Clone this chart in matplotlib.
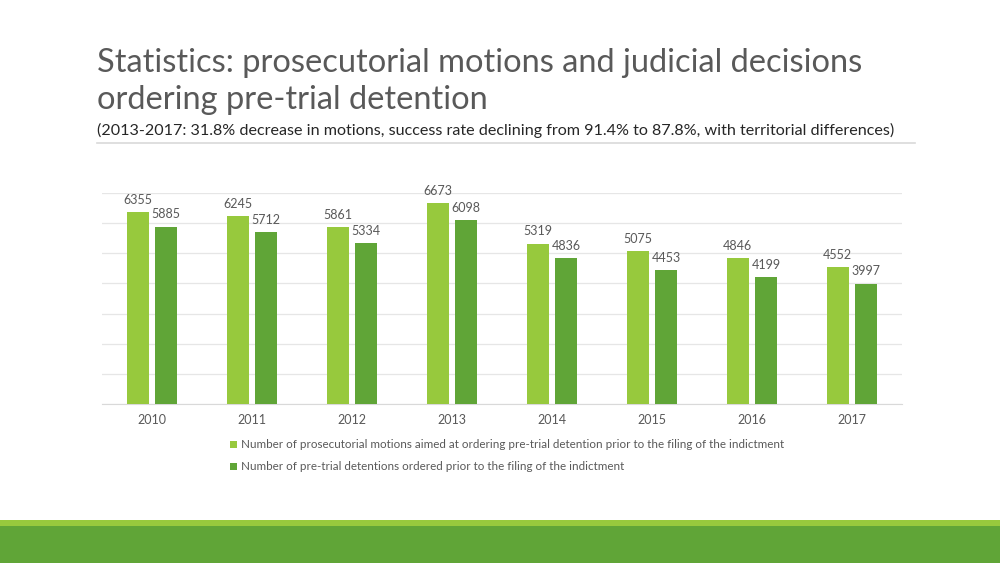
import matplotlib
matplotlib.use("Agg")
import matplotlib.pyplot as plt
from matplotlib.patches import Rectangle
import numpy as np

years = ["2010", "2011", "2012", "2013", "2014", "2015", "2016", "2017"]
motions = [6355, 6245, 5861, 6673, 5319, 5075, 4846, 4552]
ordered = [5885, 5712, 5334, 6098, 4836, 4453, 4199, 3997]
labels = ["Number of prosecutorial motions aimed at ordering pre-trial detention prior to the filing of the indictment",
          "Number of pre-trial detentions ordered prior to the filing of the indictment"]
title_lines = ["Statistics: prosecutorial motions and judicial decisions",
               "ordering pre-trial detention"]
subtitle = "(2013-2017: 31.8% decrease in motions, success rate declining from 91.4% to 87.8%, with territorial differences)"

LIGHT = "#97C93D"
DARK = "#60A537"
TXT = "#595959"
FONT = "Lato"

W, H = 1000, 563
fig = plt.figure(figsize=(10, 5.63), dpi=100)
fig.patch.set_facecolor("white")

def fx(x): return x / W
def fy(y): return 1 - y / H

# title and subtitle
for line, yb in zip(title_lines, (72, 109)):
    fig.text(fx(97), fy(yb), line, fontsize=23.5, color=TXT, family=FONT,
             va="baseline", ha="left")
fig.text(fx(97), fy(135), subtitle, fontsize=11.6, color="#262626", family=FONT,
         va="baseline", ha="left")
fig.add_artist(plt.Line2D([fx(97), fx(915)], [fy(142.5), fy(142.5)], color="#D9D9D9", lw=1.2))

# bottom bands
fig.add_artist(Rectangle((0, 0), 1, fy(526), color=DARK, transform=fig.transFigure, lw=0))
fig.add_artist(Rectangle((0, fy(526)), 1, fy(520) - fy(526), color=LIGHT, transform=fig.transFigure, lw=0))

ax = fig.add_axes([fx(102), fy(404), fx(800), fy(193) - fy(404)])
x = np.arange(len(years))
w = 0.22
b1 = ax.bar(x - 0.145, motions, w, color=LIGHT, zorder=3)
b2 = ax.bar(x + 0.14, ordered, w, color=DARK, zorder=3)
for bars, vals in ((b1, motions), (b2, ordered)):
    for r, v in zip(bars, vals):
        ax.annotate(str(v), (r.get_x() + r.get_width() / 2, v), xytext=(0, 4.5),
                    textcoords="offset points", ha="center", va="bottom",
                    fontsize=9, color=TXT, family=FONT)
ax.set_xlim(-0.5, len(years) - 0.5)
ax.set_ylim(0, 7000)
ax.set_yticks(np.arange(0, 7001, 1000))
ax.yaxis.grid(True, color="#E6E6E6", lw=0.9, zorder=0)
ax.tick_params(axis="y", left=False, labelleft=False)
ax.tick_params(axis="x", length=0, pad=7.5, labelsize=9, labelcolor=TXT)
ax.set_xticks(x)
ax.set_xticklabels(years, family=FONT)
for s in ["top", "left", "right"]:
    ax.spines[s].set_visible(False)
ax.spines["bottom"].set_color("#D9D9D9")
ax.set_facecolor("none")

# legend
for i, (lab, c) in enumerate(zip(labels, (LIGHT, DARK))):
    y = 444.5 + 22 * i
    fig.add_artist(Rectangle((fx(230), fy(y + 3.5)), fx(7), fy(y - 3.5) - fy(y + 3.5), color=c,
                             transform=fig.transFigure, lw=0))
    fig.text(fx(241), fy(y), lab, fontsize=8.4, color=TXT, family=FONT, va="center", ha="left")

fig.savefig("out.png", dpi=100)
